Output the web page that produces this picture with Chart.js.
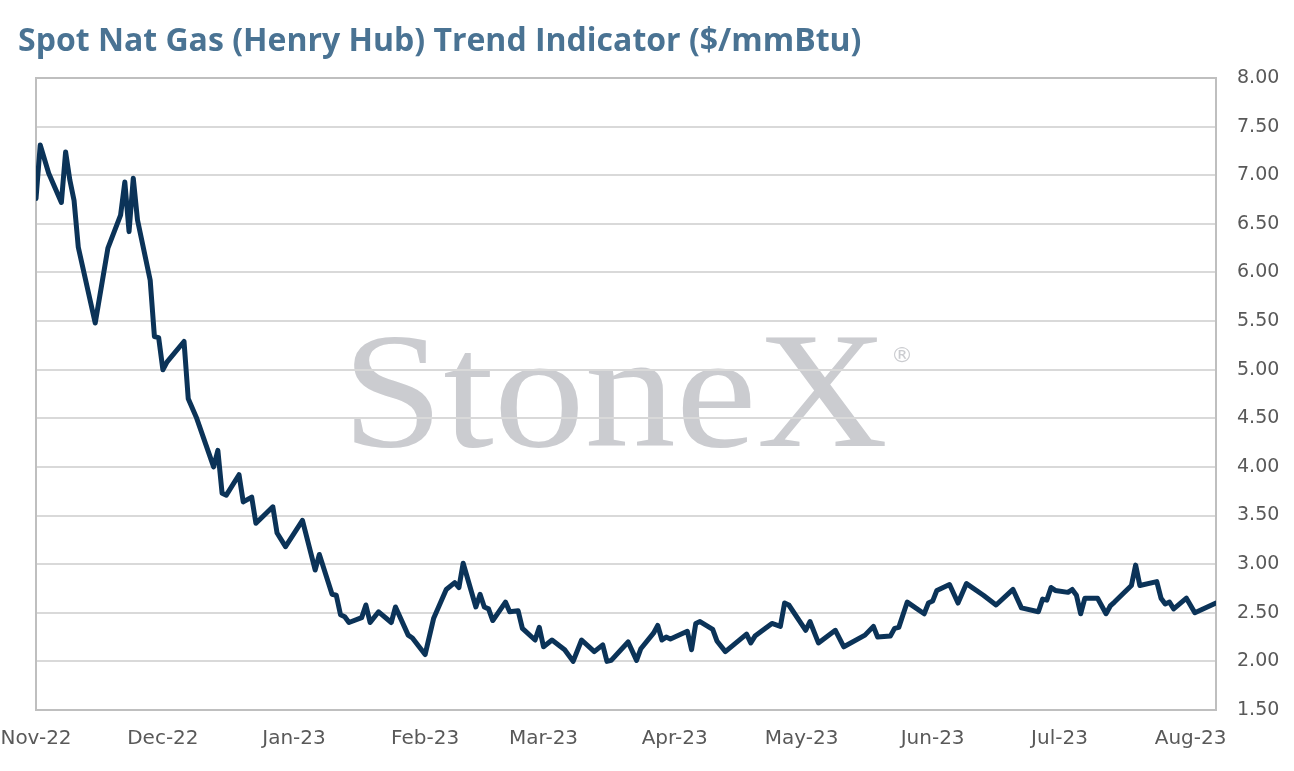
<!DOCTYPE html>
<html>
<head>
<meta charset="utf-8">
<title>Spot Nat Gas (Henry Hub) Trend Indicator</title>
<script src="https://cdn.jsdelivr.net/npm/chart.js@4.4.0/dist/chart.umd.min.js"></script>
<style>
  html, body { margin: 0; padding: 0; background: #ffffff; }
  #wrap { width: 1294px; height: 771px; position: relative; }
</style>
</head>
<body>
<div id="wrap"><canvas id="gasChart"></canvas></div>
<script>
// Precio spot Henry Hub (vértices)
const dates = [
  '2022-11-01', '2022-11-02', '2022-11-04', '2022-11-07', '2022-11-08', '2022-11-09', '2022-11-10', '2022-11-11',
  '2022-11-15', '2022-11-18', '2022-11-21', '2022-11-22', '2022-11-23', '2022-11-24', '2022-11-25', '2022-11-28',
  '2022-11-29', '2022-11-30', '2022-12-01', '2022-12-02', '2022-12-06', '2022-12-07', '2022-12-09', '2022-12-13',
  '2022-12-14', '2022-12-15', '2022-12-16', '2022-12-19', '2022-12-20', '2022-12-22', '2022-12-23', '2022-12-27',
  '2022-12-28', '2022-12-30', '2023-01-03', '2023-01-06', '2023-01-07', '2023-01-10', '2023-01-11', '2023-01-12',
  '2023-01-13', '2023-01-14', '2023-01-17', '2023-01-18', '2023-01-19', '2023-01-21', '2023-01-24', '2023-01-25',
  '2023-01-28', '2023-01-29', '2023-02-01', '2023-02-03', '2023-02-06', '2023-02-08', '2023-02-09', '2023-02-10',
  '2023-02-13', '2023-02-14', '2023-02-15', '2023-02-16', '2023-02-17', '2023-02-20', '2023-02-21', '2023-02-23',
  '2023-02-24', '2023-02-27', '2023-02-28', '2023-03-01', '2023-03-03', '2023-03-06', '2023-03-08', '2023-03-10',
  '2023-03-13', '2023-03-15', '2023-03-16', '2023-03-17', '2023-03-21', '2023-03-23', '2023-03-24', '2023-03-27',
  '2023-03-28', '2023-03-29', '2023-03-30', '2023-03-31', '2023-04-04', '2023-04-05', '2023-04-06', '2023-04-07',
  '2023-04-10', '2023-04-11', '2023-04-13', '2023-04-18', '2023-04-19', '2023-04-20', '2023-04-24', '2023-04-26',
  '2023-04-27', '2023-04-28', '2023-05-02', '2023-05-03', '2023-05-05', '2023-05-09', '2023-05-11', '2023-05-16',
  '2023-05-18', '2023-05-19', '2023-05-22', '2023-05-23', '2023-05-24', '2023-05-26', '2023-05-30', '2023-05-31',
  '2023-06-01', '2023-06-02', '2023-06-05', '2023-06-07', '2023-06-09', '2023-06-13', '2023-06-16', '2023-06-20',
  '2023-06-22', '2023-06-26', '2023-06-27', '2023-06-28', '2023-06-29', '2023-06-30', '2023-07-03', '2023-07-04',
  '2023-07-05', '2023-07-06', '2023-07-07', '2023-07-10', '2023-07-12', '2023-07-13', '2023-07-14', '2023-07-18',
  '2023-07-19', '2023-07-20', '2023-07-24', '2023-07-25', '2023-07-26', '2023-07-27', '2023-07-28', '2023-07-31',
  '2023-08-02', '2023-08-07'
];
const prices = [
  6.76, 7.31, 7.02, 6.72, 7.24, 6.95, 6.74, 6.26,
  5.48, 6.25, 6.59, 6.93, 6.42, 6.97, 6.54, 5.92,
  5.34, 5.33, 5.00, 5.08, 5.29, 4.70, 4.50, 4.00,
  4.17, 3.73, 3.71, 3.92, 3.64, 3.69, 3.42, 3.59,
  3.32, 3.18, 3.45, 2.94, 3.10, 2.69, 2.68, 2.48,
  2.46, 2.40, 2.45, 2.58, 2.40, 2.51, 2.40, 2.56,
  2.27, 2.24, 2.07, 2.44, 2.74, 2.81, 2.76, 3.01,
  2.56, 2.69, 2.56, 2.54, 2.42, 2.61, 2.51, 2.52,
  2.34, 2.22, 2.35, 2.15, 2.22, 2.12, 2.00, 2.22,
  2.10, 2.17, 2.00, 2.01, 2.20, 2.01, 2.13, 2.29,
  2.37, 2.22, 2.25, 2.23, 2.31, 2.12, 2.39, 2.41,
  2.33, 2.21, 2.10, 2.28, 2.19, 2.26, 2.39, 2.36,
  2.60, 2.58, 2.32, 2.41, 2.19, 2.32, 2.15, 2.27,
  2.36, 2.25, 2.26, 2.34, 2.35, 2.61, 2.49, 2.60,
  2.62, 2.73, 2.79, 2.60, 2.80, 2.68, 2.58, 2.74,
  2.55, 2.51, 2.64, 2.63, 2.76, 2.73, 2.71, 2.74,
  2.68, 2.49, 2.65, 2.65, 2.49, 2.57, 2.61, 2.78,
  2.99, 2.78, 2.82, 2.65, 2.59, 2.61, 2.54, 2.65,
  2.50, 2.60
];

const monthTicks = ['2022-11-01', '2022-12-01', '2023-01-01', '2023-02-01', '2023-03-01',
  '2023-04-01', '2023-05-01', '2023-06-01', '2023-07-01', '2023-08-01'];
const monthLabels = ['Nov-22', 'Dec-22', 'Jan-23', 'Feb-23', 'Mar-23',
  'Apr-23', 'May-23', 'Jun-23', 'Jul-23', 'Aug-23'];
const lastDay = '2023-08-07';

const yTicks = ['1.50', '2.00', '2.50', '3.00', '3.50', '4.00', '4.50', '5.00', '5.50', '6.00', '6.50', '7.00', '7.50', '8.00'];

// dias desde el 1 de noviembre de 2022
const origin = Date.UTC(2022, 10, 1);
function dayIndex(s) {
  return Math.round((Date.parse(s + 'T00:00:00Z') - origin) / 86400000);
}

const points = dates.map((d, i) => ({ x: dayIndex(d), y: prices[i] }));
const tickDays = monthTicks.map(dayIndex);

const tickColor = '#595959';

// marca de agua detras de la cuadricula
const watermark = {
  id: 'watermark',
  beforeDraw(chart) {
    const ctx = chart.ctx;
    ctx.save();
    ctx.font = '166px "Liberation Serif"';
    const w = ctx.measureText('StoneX').width;
    ctx.fillStyle = '#cbccd0';
    ctx.textBaseline = 'alphabetic';
    ctx.translate(342, 446);
    ctx.scale(546 / w, 1);
    ctx.fillText('StoneX', 0, 0);
    ctx.restore();
    ctx.save();
    ctx.fillStyle = '#cbccd0';
    ctx.font = '22px "DejaVu Sans"';
    ctx.fillText('®', 891, 362);
    ctx.restore();
  }
};

// marco del area del grafico
const frame = {
  id: 'frame',
  beforeDatasetsDraw(chart) {
    const { ctx, chartArea: a } = chart;
    ctx.save();
    ctx.strokeStyle = '#bfbfbf';
    ctx.lineWidth = 2;
    ctx.strokeRect(a.left, a.top, a.right - a.left, a.bottom - a.top);
    ctx.restore();
  }
};

new Chart(document.getElementById('gasChart').getContext('2d'), {
  type: 'line',
  data: {
    datasets: [{
      label: 'Henry Hub',
      data: points,
      xAxisID: 'x',
      yAxisID: 'y',
      borderColor: '#0b3358',
      borderWidth: 5,
      pointRadius: 0,
      tension: 0,
      borderJoinStyle: 'round',
      borderCapStyle: 'round'
    }]
  },
  options: {
    responsive: true,
    maintainAspectRatio: false,
    animation: false,
    layout: { padding: { left: 18, right: 0, top: 0, bottom: 21 } },
    plugins: {
      legend: { display: false },
      tooltip: { enabled: false },
      title: {
        display: true,
        text: 'Spot Nat Gas (Henry Hub) Trend Indicator ($/mmBtu)',
        align: 'start',
        color: '#4a7393',
        font: { family: 'Open Sans', size: 32, weight: 'bold' },
        padding: { top: 23, bottom: 16.6 }
      }
    },
    scales: {
      x: {
        type: 'linear',
        min: 0,
        max: dayIndex(lastDay),
        grid: { display: false, drawTicks: false },
        border: { display: false },
        afterBuildTicks(scale) {
          scale.ticks = tickDays.map(v => ({ value: v }));
        },
        afterFit(scale) {
          scale.height = 40;
          scale.paddingLeft = 0;
          scale.paddingRight = 0;
        },
        ticks: {
          color: tickColor,
          font: { family: 'DejaVu Sans', size: 20 },
          padding: 17,
          maxRotation: 0,
          autoSkip: false,
          callback: (v) => monthLabels[tickDays.indexOf(v)]
        }
      },
      yl: {
        type: 'linear',
        position: 'left',
        display: true,
        grid: { display: false, drawTicks: false },
        border: { display: false },
        ticks: { display: false },
        afterFit(scale) { scale.width = 18; }
      },
      y: {
        type: 'linear',
        position: 'right',
        min: 1.5,
        max: 8,
        grid: { color: '#d9d9d9', lineWidth: 2, drawTicks: false },
        border: { display: false },
        afterFit(scale) { scale.width = 78; },
        afterBuildTicks(scale) {
          scale.ticks = yTicks.map(t => ({ value: parseFloat(t) }));
        },
        ticks: {
          color: tickColor,
          font: { family: 'DejaVu Sans', size: 19 },
          padding: 21,
          callback: (v) => yTicks.find(t => parseFloat(t) === v)
        }
      }
    }
  },
  plugins: [watermark, frame]
});
</script>
</body>
</html>
